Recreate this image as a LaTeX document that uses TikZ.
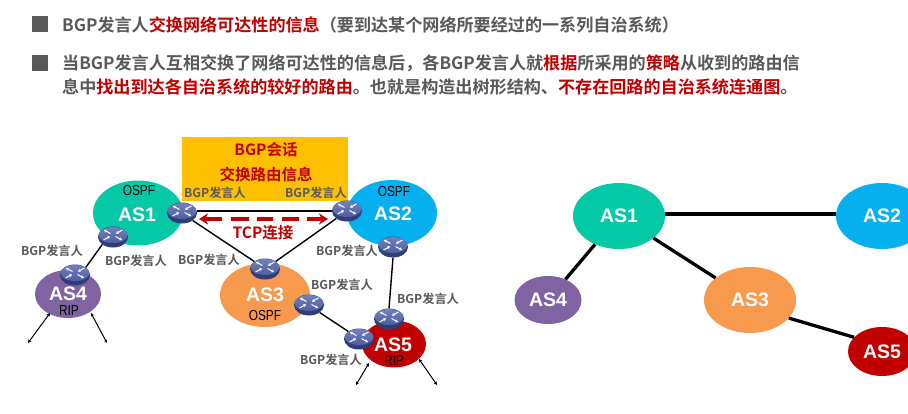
\documentclass[tikz,border=0pt]{standalone}
\usepackage{fontspec}
\usepackage{graphicx}
\setmainfont{Liberation Sans}
\newfontfamily\cjkb{Noto Sans CJK SC Bold}
\usetikzlibrary{shapes.geometric,arrows.meta}
\definecolor{gtxt}{HTML}{595959}
\definecolor{redt}{HTML}{C00000}
\definecolor{teal1}{HTML}{04C8A6}
\definecolor{blue2}{HTML}{06B0EE}
\definecolor{oran3}{HTML}{F79A4E}
\definecolor{purp4}{HTML}{8064A2}
\definecolor{red5}{HTML}{C00000}
\definecolor{yell}{HTML}{FFC000}
\definecolor{rtop}{HTML}{7280BC}
\definecolor{rmid}{HTML}{4F5E9E}
\definecolor{rbot}{HTML}{2F3D78}
\newcommand{\rd}[1]{\textcolor{redt}{#1}}
\newcommand{\nar}[1]{\scalebox{.82}[1]{#1}}
\tikzset{
  blob/.style={ellipse,draw=none,inner sep=0pt},
  aslabel/.style={font=\fontsize{19.5}{20}\selectfont\bfseries,text=white,inner sep=0pt},
  asblob/.style={blob,font=\fontsize{19.5}{20}\selectfont\bfseries,text=white},
  proto/.style={font=\fontsize{14.5}{15}\selectfont,text=black,inner sep=0pt},
  speaker/.style={font=\cjkb\fontsize{12.2}{12}\selectfont,text=gtxt,inner sep=0pt},
  head/.style={font=\cjkb\fontsize{17.1}{17}\selectfont,text=gtxt,inner sep=0pt,anchor=west},
  redlabel/.style={font=\cjkb\fontsize{15.5}{15}\selectfont,text=redt,inner sep=0pt},
  link/.style={draw=black,line width=1.4pt},
  biglink/.style={draw=black,line width=3.3pt},
  stub/.style={draw=black,line width=1pt,{Stealth[length=3.5pt,width=3.5pt]}-{Stealth[length=3.5pt,width=3.5pt]}},
  tcp/.style={draw=redt,line width=3.2pt,dash pattern=on 17pt off 9pt on 18pt off 8pt on 16pt off 9pt on 17pt off 8pt on 12pt off 0pt,{Stealth[length=9pt,width=11pt]}-{Stealth[length=9pt,width=11pt]}},
  bullet/.style={fill=gtxt,draw=none,minimum size=16pt,inner sep=0pt},
  rbody/.style={ellipse,fill=rbot,draw=none,minimum width=30pt,minimum height=21pt,inner sep=0pt},
  rface/.style={top color=rtop,bottom color=rmid,draw=none},
  rarrow/.style={draw=white,line width=1pt,-{Stealth[length=2.8pt,width=3.4pt]}}
}
\newcommand{\router}[3]{%
  \node[rbody] (#1) at (#2,#3) {};
  \shade[rface] (#2,#3-2) ellipse [x radius=14.5,y radius=8];
  \draw[rarrow] (#2-2.5,#3-3.5) -- (#2-9,#3-7);
  \draw[rarrow] (#2+9.5,#3-7) -- (#2+3,#3-3.5);
  \draw[rarrow] (#2-9.5,#3+3) -- (#2-3,#3-0.5);
  \draw[rarrow] (#2+2.5,#3-0.5) -- (#2+9,#3+3);
}
\begin{document}
\begin{tikzpicture}[x=1pt,y=-1pt]
\useasboundingbox (0,0) rectangle (908,413);
\clip (0,0) rectangle (908,413);
\fill[white] (0,0) rectangle (908,413);
% header
\node[bullet] (b1) at (40,24) {};
\node[bullet] (b2) at (40,63) {};
\node[head] (t1) at (62,25) {BGP发言人\rd{交换网络可达性的信息}（要到达某个网络所要经过的一系列自治系统）};
\node[head] (t2) at (62,63) {当BGP发言人互相交换了网络可达性的信息后，各BGP发言人就\rd{根据}所采用的\rd{策略}从收到的路由信};
\node[head] (t3) at (62,87) {息中\rd{找出到达各自治系统的较好的路由}。也就是构造出树形结构、\rd{不存在回路的自治系统连通图}。};
% left: AS ellipses
\node[blob,fill=teal1,minimum width=90pt,minimum height=65pt] (e1) at (138,213) {};
\node[blob,fill=blue2,minimum width=90pt,minimum height=66pt] (e2) at (392,213) {};
\node[blob,fill=oran3,minimum width=90pt,minimum height=64pt] (e3) at (265,295) {};
\node[blob,fill=purp4,minimum width=66pt,minimum height=48pt] (e4) at (68,294) {};
\node[blob,fill=red5,minimum width=64pt,minimum height=47pt] (e5) at (394,344) {};
\node[fill=yell,minimum width=166pt,minimum height=64pt,inner sep=0pt] (box) at (265,169) {};
\node[redlabel] (s1) at (266,150) {BGP会话};
\node[redlabel] (s2) at (266,175) {交换路由信息};
% routers
\router{r1}{182}{213}
\router{r1b}{113}{237}
\router{r4}{75}{275}
\router{r2}{347}{211}
\router{r2b}{393}{247}
\router{r3t}{265}{269}
\router{r3r}{309}{305}
\router{r5t}{389}{319}
\router{r5l}{359}{339}
% links
\draw[link] ([yshift=2pt]r1.east) -- (r2.west);
\draw[link] (r1.south east) -- (r3t.north west);
\draw[link] (r2.south west) -- (r3t.north east);
\draw[link] (r1b.south west) -- (r4.north east);
\draw[link] (r2b.south) -- (r5t.north);
\draw[link] (r3r.south east) -- (r5l.north west);
\coordinate (tl) at (199,219);
\coordinate (tr) at (328,219);
\draw[tcp] (tl) -- (tr);
\node[redlabel] (tcplab) at (263,233) {TCP连接};
% stub arrows
\coordinate (a1) at (28,343);
\coordinate (a2) at (107,343);
\coordinate (a3) at (356,385);
\coordinate (a4) at (437,385);
\coordinate (a1s) at (50,313);
\coordinate (a2s) at (91,313);
\coordinate (a3s) at (369,363);
\coordinate (a4s) at (419,359);
\draw[stub] (a1s) -- (a1);
\draw[stub] (a2s) -- (a2);
\draw[stub] (a3s) -- (a3);
\draw[stub] (a4s) -- (a4);
% AS labels
\node[aslabel] (l1) at (137,215) {AS1};
\node[aslabel] (l2) at (393,214) {AS2};
\node[aslabel] (l3) at (265,295) {AS3};
\node[aslabel] (l4) at (68,294) {AS4};
\node[aslabel] (l5) at (393,345) {AS5};
\node[proto] (p1) at (139,191) {\nar{OSPF}};
\node[proto] (p2) at (394,192) {\nar{OSPF}};
\node[proto] (p3) at (265,316) {\nar{OSPF}};
\node[proto] (p4) at (69,310.5) {\nar{RIP}};
\node[proto] (p5) at (394,361) {\nar{RIP}};
% speakers
\node[speaker] (q1) at (215,193) {BGP发言人};
\node[speaker] (q2) at (316,193) {BGP发言人};
\node[speaker] (q3) at (347,251) {BGP发言人};
\node[speaker] (q4) at (209,260) {BGP发言人};
\node[speaker] (q5) at (52,251) {BGP发言人};
\node[speaker] (q6) at (136,261) {BGP发言人};
\node[speaker] (q7) at (342,285) {BGP发言人};
\node[speaker] (q8) at (428,299) {BGP发言人};
\node[speaker] (q9) at (331,360) {BGP发言人};
% right: tree
\node[asblob,fill=teal1,minimum width=92pt,minimum height=66pt] (n1) at (619,216) {AS1};
\node[asblob,fill=blue2,minimum width=92pt,minimum height=66pt] (n2) at (882,216) {AS2};
\node[asblob,fill=oran3,minimum width=92pt,minimum height=66pt] (n3) at (750,300) {AS3};
\node[asblob,fill=purp4,minimum width=67pt,minimum height=48pt] (n4) at (548,300) {AS4};
\node[asblob,fill=red5,minimum width=68pt,minimum height=49pt] (n5) at (882,351.5) {AS5};
\draw[biglink] ([yshift=2pt]n1.east) -- ([yshift=2pt]n2.west);
\draw[biglink] (n1) -- (n3);
\draw[biglink] (n1) -- (n4);
\draw[biglink] (n3.-25) -- (n5.153);
\end{tikzpicture}
\end{document}
